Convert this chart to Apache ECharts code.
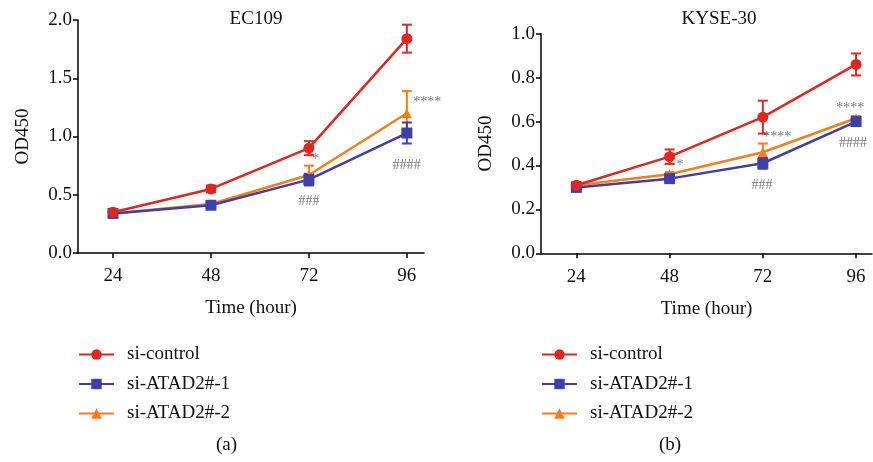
<!DOCTYPE html>
<html><head><meta charset="utf-8">
<script src="https://cdn.jsdelivr.net/npm/echarts@6/dist/echarts.min.js"></script>
<style>html,body{margin:0;padding:0;background:#fff}#c{width:873px;height:462px}</style>
</head><body><div id="c"></div>
<script>
// ---- data ----
const hours = [24, 48, 72, 96];
const seriesNames = ['si-control', 'si-ATAD2#-1', 'si-ATAD2#-2'];
// EC109
const ec109Control = [0.35, 0.55, 0.90, 1.84];
const ec109ControlErr = [0.02, 0.03, 0.06, 0.12];
const ec109Si1 = [0.34, 0.41, 0.63, 1.03];
const ec109Si1Err = [0.02, 0.02, 0.05, 0.09];
const ec109Si2 = [0.34, 0.42, 0.67, 1.20];
const ec109Si2Err = [0.02, 0.02, 0.08, 0.19];
// KYSE-30
const kyseControl = [0.31, 0.44, 0.62, 0.86];
const kyseControlErr = [0.015, 0.033, 0.075, 0.05];
const kyseSi1 = [0.30, 0.34, 0.41, 0.60];
const kyseSi1Err = [0.01, 0.01, 0.025, 0.01];
const kyseSi2 = [0.31, 0.36, 0.46, 0.615];
const kyseSi2Err = [0.01, 0.01, 0.04, 0.01];
// significance annotations [x, y, text]
const ec109Notes = [[73.7, 0.80, '*'], [101.0, 1.29, '****'], [72, 0.44, '###'], [96, 0.75, '####']];
const kyseNotes = [[50.7, 0.40, '*'], [75.7, 0.53, '****'], [71.8, 0.31, '###'], [94.5, 0.66, '****'], [95.2, 0.50, '####']];
const yTicksLeft = {min: 0, max: 2.0, interval: 0.5};
const yTicksRight = {min: 0, max: 1.0, interval: 0.2};

// ---- style ----
const FONT = 'Liberation Serif';
const FS = 19;
const colors = ['#e2261f', '#3f3fab', '#f47d1c'];
const legendColors = ['#e2261f', '#33339a', '#f9a035'];
const symbols = ['circle', 'rect', 'triangle'];

const chart = echarts.init(document.getElementById('c'));

function pairs(vals) { return hours.map((h, i) => [h, vals[i]]); }
function errPairs(vals, errs) { return hours.map((h, i) => [h, vals[i], errs[i]]); }

function errRender(params, api) {
  const x = api.value(0), y = api.value(1), e = api.value(2);
  const t = api.coord([x, y + e]), b = api.coord([x, y - e]);
  const cap = 5;
  const st = {stroke: api.visual('color'), lineWidth: 2};
  return {type: 'group', children: [
    {type: 'line', shape: {x1: t[0], y1: t[1], x2: b[0], y2: b[1]}, style: st},
    {type: 'line', shape: {x1: t[0] - cap, y1: t[1], x2: t[0] + cap, y2: t[1]}, style: st},
    {type: 'line', shape: {x1: b[0] - cap, y1: b[1], x2: b[0] + cap, y2: b[1]}, style: st}
  ]};
}

function buildSeries(idx, vals, errs, notes) {
  const out = [];
  const order = [2, 1, 0];
  order.forEach(k => {
    out.push({
      type: 'custom', name: 'err' + idx + k, xAxisIndex: idx, yAxisIndex: idx,
      renderItem: errRender, itemStyle: {color: colors[k]},
      data: errPairs(vals[k], errs[k]), z: 2 + (2 - k), silent: true, clip: false
    });
    out.push({
      type: 'line', name: seriesNames[k], xAxisIndex: idx, yAxisIndex: idx,
      data: pairs(vals[k]), symbol: symbols[k], symbolSize: k === 2 ? 10 : 11,
      lineStyle: {width: 2.5, color: colors[k]},
      itemStyle: {color: colors[k]},
      z: 3 + (2 - k), animation: false
    });
  });
  out.push({
    type: 'scatter', xAxisIndex: idx, yAxisIndex: idx, symbolSize: 0, clip: false,
    data: notes.map(n => ({value: [n[0], n[1]], name: n[2]})),
    label: {show: true, position: 'inside', formatter: p => p.name,
      fontFamily: FONT, fontSize: 14, color: '#555'},
    silent: true, z: 10
  });
  return out;
}

const axisLine = {lineStyle: {color: '#000', width: 1.5}};
const axisTick = {length: 5, lineStyle: {color: '#000', width: 1.5}};
const labelStyle = {fontFamily: FONT, fontSize: FS, color: '#111'};

function xAx(grid, min, max) {
  return {type: 'value', gridIndex: grid, min: min, max: max,
    axisLine: axisLine, splitLine: {show: false},
    axisTick: Object.assign({customValues: hours}, axisTick),
    axisLabel: Object.assign({customValues: hours, margin: 14}, labelStyle),
    name: 'Time (hour)', nameLocation: 'middle', nameGap: 46,
    nameTextStyle: {fontFamily: FONT, fontSize: FS, color: '#111'}};
}
function yAx(grid, t) {
  return {type: 'value', gridIndex: grid, min: t.min, max: t.max, interval: t.interval,
    axisLine: Object.assign({show: true}, axisLine), axisTick: Object.assign({show: true}, axisTick),
    splitLine: {show: false},
    axisLabel: Object.assign({formatter: v => v.toFixed(1), margin: 6}, labelStyle),
    name: 'OD450', nameLocation: 'middle', nameGap: 45,
    nameTextStyle: {fontFamily: FONT, fontSize: FS, color: '#111'}};
}

function legend(left) {
  return {orient: 'vertical', left: left, top: 345, padding: 0, data: seriesNames,
    itemWidth: 35, itemHeight: 13, itemGap: 10.5,
    textStyle: {fontFamily: FONT, fontSize: FS, color: '#111', padding: [0, 0, 0, 8]},
    selectedMode: false};
}

chart.setOption({
  animation: false,
  color: legendColors,
  title: [
    {text: 'EC109', left: 251, top: 5, textAlign: 'center', textStyle: {fontFamily: FONT, fontSize: FS, fontWeight: 'normal', color: '#111'}},
    {text: 'KYSE-30', left: 714, top: 5, textAlign: 'center', textStyle: {fontFamily: FONT, fontSize: FS, fontWeight: 'normal', color: '#111'}}
  ],
  grid: [
    {left: 78, top: 20, width: 346, height: 233},
    {left: 541, top: 33.7, width: 331, height: 219.6}
  ],
  xAxis: [xAx(0, 15.43, 100.2), xAx(1, 14.9, 100.1)],
  yAxis: [yAx(0, yTicksLeft), yAx(1, yTicksRight)],
  legend: [legend(78), legend(541)],
  series: [].concat(
    buildSeries(0, [ec109Control, ec109Si1, ec109Si2], [ec109ControlErr, ec109Si1Err, ec109Si2Err], ec109Notes),
    buildSeries(1, [kyseControl, kyseSi1, kyseSi2], [kyseControlErr, kyseSi1Err, kyseSi2Err], kyseNotes)
  ),
  graphic: [
    {type: 'text', left: 216, top: 436, style: {text: '(a)', fontFamily: FONT, fontSize: FS, fill: '#111'}},
    {type: 'text', left: 659, top: 436, style: {text: '(b)', fontFamily: FONT, fontSize: FS, fill: '#111'}}
  ]
});
</script></body></html>
